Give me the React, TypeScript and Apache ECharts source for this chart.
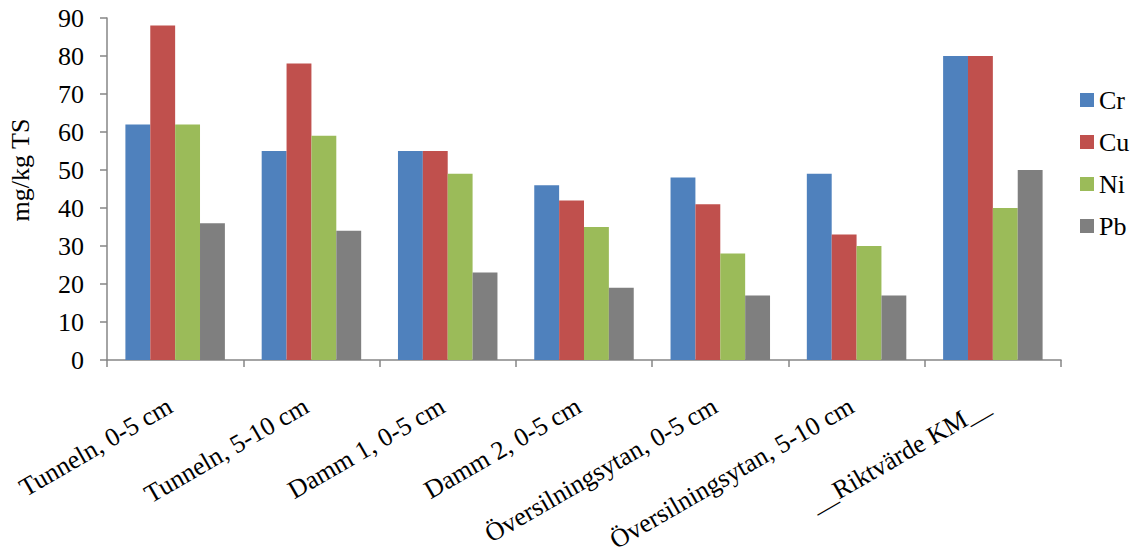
import React, { useEffect, useRef } from "react";
import * as echarts from "echarts";

const categories = [
  "Tunneln, 0-5 cm",
  "Tunneln, 5-10 cm",
  "Damm 1, 0-5 cm",
  "Damm 2, 0-5 cm",
  "Översilningsytan, 0-5 cm",
  "Översilningsytan, 5-10 cm",
  "__Riktvärde KM__",
];

const cr = [62, 55, 55, 46, 48, 49, 80];
const cu = [88, 78, 55, 42, 41, 33, 80];
const ni = [62, 59, 49, 35, 28, 30, 40];
const pb = [36, 34, 23, 19, 17, 17, 50];

const yTicks = { min: 0, max: 90, interval: 10 };

const seriesDefs = [
  { name: "Cr", data: cr, color: "#4F81BD" },
  { name: "Cu", data: cu, color: "#C0504D" },
  { name: "Ni", data: ni, color: "#9BBB59" },
  { name: "Pb", data: pb, color: "#7F7F7F" },
];

const FONT = "Liberation Serif";
const AXIS_COLOR = "#868686";

export default function App() {
  const ref = useRef<HTMLDivElement>(null);

  useEffect(() => {
    if (!ref.current) return;
    const chart = echarts.init(ref.current, null, { renderer: "svg" });
    chart.setOption({
      animation: false,
      backgroundColor: "#ffffff",
      textStyle: { fontFamily: FONT },
      grid: { left: 107, right: 75, top: 18, bottom: 197, containLabel: false },
      legend: {
        orient: "vertical",
        left: 1075,
        top: 82,
        itemWidth: 14,
        itemHeight: 14,
        itemGap: 16,
        icon: "rect",
        textStyle: { fontFamily: FONT, fontSize: 26, color: "#000", lineHeight: 26 },
        data: seriesDefs.map((s) => s.name),
      },
      graphic: [
        {
          type: "text",
          x: 20,
          y: 170,
          rotation: Math.PI / 2,
          style: {
            text: "mg/kg TS",
            fontFamily: FONT,
            fontSize: 26,
            fill: "#000",
            textAlign: "center",
            textVerticalAlign: "middle",
          },
        },
      ],
      xAxis: {
        type: "category",
        data: categories,
        boundaryGap: true,
        axisLine: { lineStyle: { color: AXIS_COLOR, width: 1.5 } },
        axisTick: { show: true, length: 7, lineStyle: { color: AXIS_COLOR, width: 1.5 } },
        axisLabel: {
          interval: 0,
          rotate: 30,
          margin: 41,
          fontFamily: FONT,
          fontSize: 26,
          color: "#000",
          padding: [0, 6, 0, 0],
        },
        splitLine: { show: false },
      },
      yAxis: {
        type: "value",
        min: yTicks.min,
        max: yTicks.max,
        interval: yTicks.interval,
        axisLine: { show: true, lineStyle: { color: AXIS_COLOR, width: 1.5 } },
        axisTick: { show: true, length: 7, lineStyle: { color: AXIS_COLOR, width: 1.5 } },
        axisLabel: { margin: 23, fontFamily: FONT, fontSize: 26, color: "#000" },
        splitLine: { show: false },
      },
      series: seriesDefs.map((s) => ({
        name: s.name,
        type: "bar",
        data: s.data,
        barGap: "0%",
        barCategoryGap: "27%",
        itemStyle: { color: s.color },
      })),
    });
    return () => chart.dispose();
  }, []);

  return <div ref={ref} style={{ width: 1136, height: 557, position: "absolute", left: 0, top: 0 }} />;
}
